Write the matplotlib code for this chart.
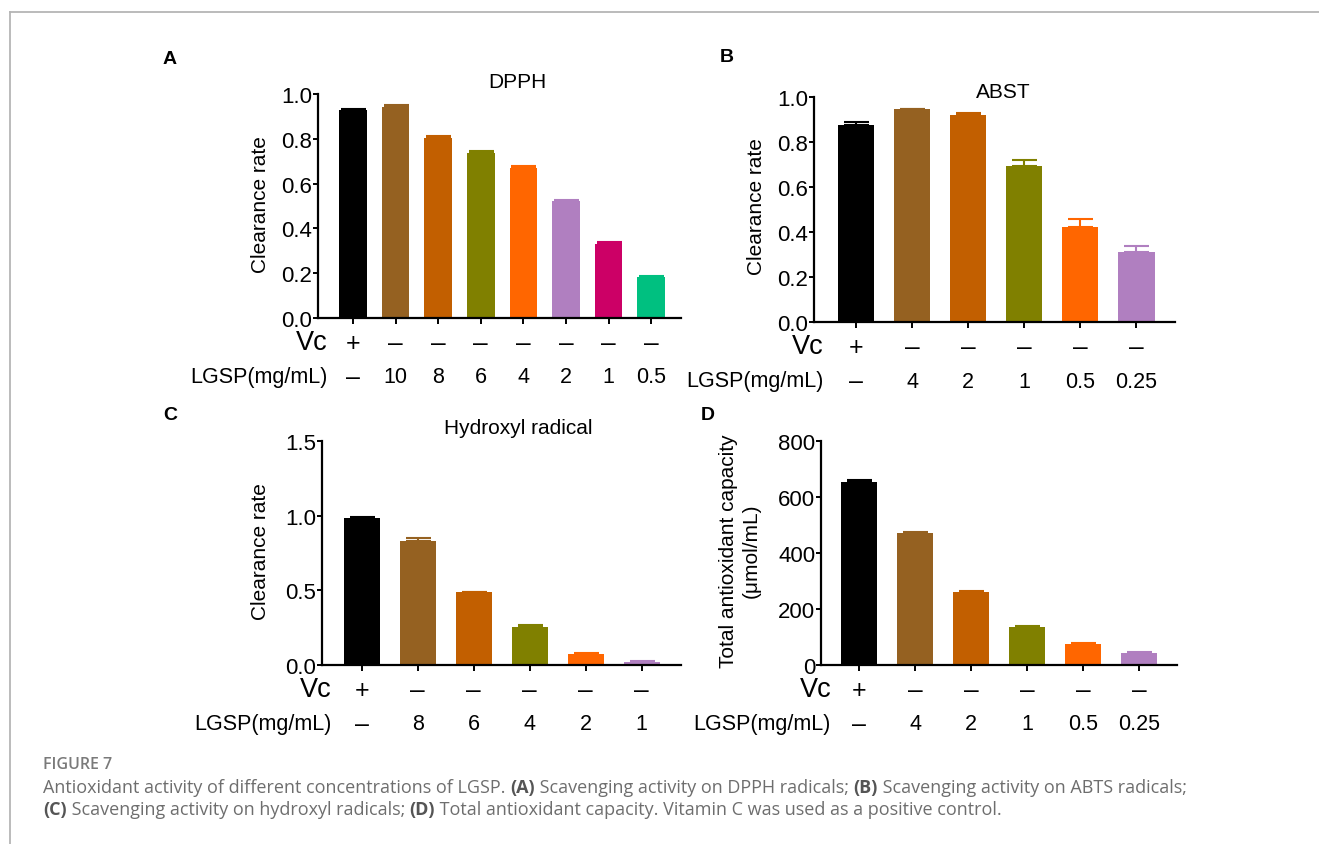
import matplotlib
matplotlib.use("Agg")
import matplotlib.pyplot as plt
from matplotlib.lines import Line2D
from matplotlib.transforms import ScaledTranslation
import numpy as np

# ---------------- data ----------------
bar_colors = ["#000000", "#956121", "#C25F00", "#808000", "#FF6600", "#B07FC0", "#CC0066", "#00C080"]

dpph_vals = [0.930, 0.941, 0.802, 0.736, 0.670, 0.523, 0.331, 0.183]
dpph_err = [0.004, 0.010, 0.012, 0.010, 0.007, 0.006, 0.010, 0.004]
dpph_vc = ["+", "–", "–", "–", "–", "–", "–", "–"]
dpph_lgsp = ["–", "10", "8", "6", "4", "2", "1", "0.5"]

abts_vals = [0.874, 0.945, 0.918, 0.695, 0.423, 0.311]
abts_err = [0.015, 0.003, 0.012, 0.025, 0.035, 0.025]
abts_vc = ["+", "–", "–", "–", "–", "–"]
abts_lgsp = ["–", "4", "2", "1", "0.5", "0.25"]

hyd_vals = [0.987, 0.831, 0.486, 0.252, 0.074, 0.018]
hyd_err = [0.005, 0.020, 0.005, 0.013, 0.004, 0.009]
hyd_vc = ["+", "–", "–", "–", "–", "–"]
hyd_lgsp = ["–", "8", "6", "4", "2", "1"]

tac_vals = [655, 470, 260, 137, 76, 42]
tac_err = [7, 4, 3, 4, 1.5, 4]
tac_vc = ["+", "–", "–", "–", "–", "–"]
tac_lgsp = ["–", "4", "2", "1", "0.5", "0.25"]

dpph_yticks = [0.0, 0.2, 0.4, 0.6, 0.8, 1.0]
abts_yticks = [0.0, 0.2, 0.4, 0.6, 0.8, 1.0]
hyd_yticks = [0.0, 0.5, 1.0, 1.5]
tac_yticks = [0, 200, 400, 600, 800]

# ---------------- figure ----------------
W, H = 1319, 845
plt.rcParams["font.family"] = ["Liberation Sans", "DejaVu Sans"]
fig = plt.figure(figsize=(W / 100, H / 100), dpi=100)


def rect(l, r, top, bottom):
    return [l / W, 1 - bottom / H, (r - l) / W, (bottom - top) / H]


def fx(x):
    return x / W


def fy(y):
    return 1 - y / H


def panel(r, vals, errs, vc, lgsp, yticks, fmt, xlim):
    ax = fig.add_axes(r)
    n = len(vals)
    x = np.arange(n)
    cols = bar_colors[:n]
    ax.bar(x, vals, width=0.65, color=cols, edgecolor="none", zorder=2)
    for xi, v, e, c in zip(x, vals, errs, cols):
        ax.errorbar(xi, v, yerr=[[0], [e]], fmt="none", ecolor=c,
                    elinewidth=1.5, capsize=9, capthick=1.5, zorder=3)
    ax.set_xlim(*xlim)
    ax.set_ylim(yticks[0], yticks[-1])
    ax.set_yticks(yticks)
    ax.set_yticklabels([fmt.format(t) for t in yticks])
    ax.set_xticks(x)
    ax.set_xticklabels([])
    for s in ["top", "right"]:
        ax.spines[s].set_visible(False)
    for s in ["left", "bottom"]:
        ax.spines[s].set_linewidth(1.6)
    ax.tick_params(axis="y", length=3.5, width=1.4, pad=0.5, labelsize=16)
    ax.tick_params(axis="x", length=4, width=1.4)
    ax.set_facecolor("none")
    # rows below axis
    t_vc = ax.get_xaxis_transform() + ScaledTranslation(0, -0.25, fig.dpi_scale_trans)
    t_lg = ax.get_xaxis_transform() + ScaledTranslation(0, -0.59, fig.dpi_scale_trans)
    for xi, s in zip(x, vc):
        ax.text(xi, 0, s, transform=t_vc, ha="center", va="center", fontsize=19 if s == "–" else 18,
                clip_on=False)
    for xi, s in zip(x, lgsp):
        ax.text(xi, 0, s, transform=t_lg, ha="center", va="center", fontsize=15.5 if s != "–" else 18,
                clip_on=False)
    lab_vc = ax.transAxes + ScaledTranslation(0.10, -0.245, fig.dpi_scale_trans)
    lab_lg = ax.transAxes + ScaledTranslation(0.10, -0.59, fig.dpi_scale_trans)
    ax.text(0, 0, "Vc", transform=lab_vc, ha="right", va="center", fontsize=19.5, clip_on=False)
    ax.text(0, 0, "LGSP(mg/mL)", transform=lab_lg, ha="right", va="center", fontsize=15.5,
            clip_on=False)
    return ax


axA = panel(rect(318, 681, 95, 319), dpph_vals, dpph_err, dpph_vc, dpph_lgsp,
            dpph_yticks, "{:.1f}", (-0.82, 7.7))
axB = panel(rect(814, 1175, 98, 323), abts_vals, abts_err, abts_vc, abts_lgsp,
            abts_yticks, "{:.1f}", (-0.75, 5.69))
axC = panel(rect(322, 681, 442, 666), hyd_vals, hyd_err, hyd_vc, hyd_lgsp,
            hyd_yticks, "{:.1f}", (-0.71, 5.7))
axD = panel(rect(821, 1177, 442, 666), tac_vals, tac_err, tac_vc, tac_lgsp,
            tac_yticks, "{:d}", (-0.68, 5.68))

# titles
fig.text(fx(517), fy(83), "DPPH", ha="center", va="center", fontsize=15)
fig.text(fx(1003), fy(93), "ABST", ha="center", va="center", fontsize=15)
fig.text(fx(518), fy(429), "Hydroxyl radical", ha="center", va="center", fontsize=15)

# y labels
fig.text(fx(261), fy(205), "Clearance rate", rotation=90, ha="center", va="center", fontsize=15)
fig.text(fx(756), fy(207), "Clearance rate", rotation=90, ha="center", va="center", fontsize=15)
fig.text(fx(261), fy(552), "Clearance rate", rotation=90, ha="center", va="center", fontsize=15)
fig.text(fx(740), fy(551), "Total antioxidant capacity\n(μmol/mL)", rotation=90,
         ha="center", va="center", fontsize=15, linespacing=1.25, multialignment="center")

# panel letters
for lx, ly, s in [(170, 60, "A"), (727, 58, "B"), (170, 415, "C"), (708, 415, "D")]:
    fig.text(fx(lx), fy(ly), s, ha="center", va="center", fontsize=14, fontweight="bold")

# frame lines
fig.add_artist(Line2D([fx(9.5), 1.0], [fy(13), fy(13)], color="#b5b5b5", lw=1.3))
fig.add_artist(Line2D([fx(9.5), fx(9.5)], [fy(13), 0.0], color="#b5b5b5", lw=1.3))

# caption
cap_font = ["Open Sans", "DejaVu Sans"]
fig.text(fx(43), fy(765), "FIGURE 7", ha="left", va="center", fontsize=11.5,
         fontweight="semibold", color="#7a7a7a", family=cap_font)

renderer = fig.canvas.get_renderer()


def write_line(pieces, x0, y0, size=13):
    x = x0
    for s, bold in pieces:
        t = fig.text(fx(x), fy(y0), s, ha="left", va="center", fontsize=size,
                     fontweight="bold" if bold else "normal",
                     color="#555555" if bold else "#6e6e6e", family=cap_font)
        bb = t.get_window_extent(renderer=renderer)
        x += bb.width


line1 = [("Antioxidant activity of different concentrations of LGSP. ", False), ("(A)", True),
         (" Scavenging activity on DPPH radicals; ", False), ("(B)", True),
         (" Scavenging activity on ABTS radicals;", False)]
line2 = [("(C)", True), (" Scavenging activity on hydroxyl radicals; ", False), ("(D)", True),
         (" Total antioxidant capacity. Vitamin C was used as a positive control.", False)]
write_line(line1, 43, 788)
write_line(line2, 43, 810)

fig.savefig("out.png", dpi=100)
